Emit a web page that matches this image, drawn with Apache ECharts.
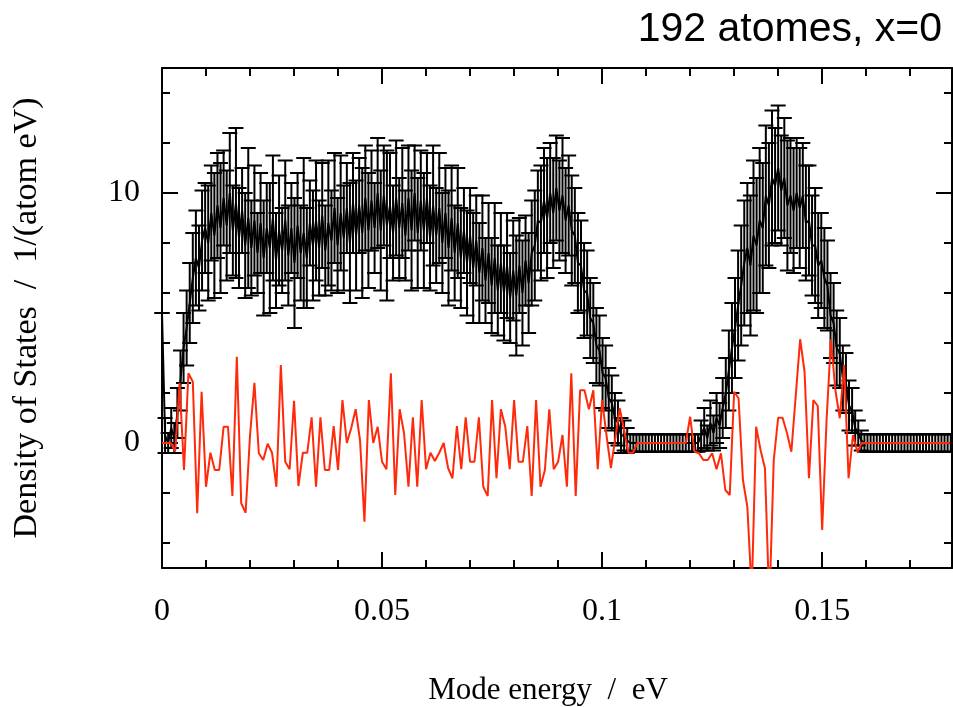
<!DOCTYPE html>
<html><head><meta charset="utf-8">
<script src="https://cdn.jsdelivr.net/npm/echarts@6/dist/echarts.min.js"></script>
<style>html,body{margin:0;padding:0;background:#fff}#c{width:953px;height:707px}</style>
</head><body><div id="c"></div>
<script>
// ---------- data ----------
const titleText = '192 atomes, x=0';
const xName = 'Mode energy  /  eV';
const yName = 'Density of States  /  1/(atom eV)';

// black series (with error bars): energy grid start/step and values
const blackStart = 0;
const blackStep = 0.0007;
const blackValues = [
  5.2, 0.3, 0.0, 0.6, 0.2, 1.2, 2.5, 3.8, 4.6, 5.6,
  6.6, 7.4, 7.0, 8.1, 8.6, 8.0, 9.2, 8.3, 9.5, 8.6,
  9.8, 8.7, 10.0, 8.5, 9.6, 8.2, 9.3, 7.9, 9.0, 7.8,
  8.9, 7.6, 8.8, 7.4, 8.6, 7.8, 9.0, 7.3, 8.5, 7.7,
  8.9, 7.5, 8.6, 7.2, 8.7, 7.6, 8.4, 7.4, 8.8, 7.9,
  8.9, 7.8, 9.1, 7.7, 8.8, 8.1, 9.4, 7.9, 9.2, 8.2,
  9.4, 8.0, 9.6, 8.3, 9.5, 8.4, 9.8, 8.5, 9.7, 8.6,
  10.0, 8.5, 9.9, 8.7, 9.5, 8.4, 9.8, 8.6, 9.6, 8.3,
  9.8, 8.5, 10.0, 8.4, 9.7, 8.5, 9.8, 8.2, 9.5, 8.3,
  9.4, 8.0, 9.2, 7.8, 9.0, 7.6, 8.8, 7.4, 8.5, 7.2,
  8.3, 7.0, 8.1, 6.8, 7.8, 6.5, 7.6, 6.3, 7.4, 6.1,
  7.2, 6.0, 7.1, 5.8, 6.9, 5.9, 7.1, 6.0, 7.3, 6.4,
  7.6, 7.9, 8.9, 8.8, 9.7, 9.0, 10.0, 9.2, 10.2, 9.3,
  9.9, 8.9, 9.5, 8.5, 8.3, 7.2, 7.1, 6.1, 6.0, 5.0,
  4.8, 3.9, 3.7, 2.8, 2.6, 1.8, 1.6, 1.0, 0.8, 0.3,
  0.3, 0.1, 0, 0, 0, 0, 0, 0, 0, 0,
  0, 0, 0, 0, 0, 0, 0, 0, 0, 0,
  0, 0, 0, 0, 0, 0.3, 0.6, 0.2, 0.8, 0.4,
  1.0, 0.7, 1.4, 2.0, 2.9, 3.8, 4.6, 5.5, 6.3, 7.2,
  7.8, 7.1, 8.3, 7.9, 8.9, 8.6, 9.9, 9.5, 10.6, 10.3,
  11.0, 10.1, 10.6, 9.5, 9.9, 9.3, 10.0, 9.4, 9.9, 8.8,
  8.9, 7.9, 7.9, 7.1, 7.3, 6.6, 6.3, 5.1, 4.8, 3.8,
  3.6, 2.6, 2.4, 1.5, 1.3, 0.6, 0.4, 0.1, 0, 0,
  0, 0, 0, 0, 0, 0, 0, 0, 0, 0,
  0, 0, 0, 0, 0, 0, 0, 0, 0, 0,
  0, 0, 0, 0, 0, 0, 0
];
const blackErrors = [
  0, 0.7, 0.4, 0.8, 0.6, 1.0, 1.2, 1.4, 1.5, 1.6,
  1.8, 1.9, 1.7, 2.0, 1.8, 2.3, 1.9, 2.5, 2.1, 2.6,
  1.9, 2.2, 2.4, 1.8, 3.0, 2.0, 1.7, 2.1, 2.8, 1.9,
  2.2, 1.6, 2.0, 2.3, 1.8, 2.6, 2.5, 1.9, 2.2, 1.7,
  2.4, 2.0, 1.8, 2.6, 2.1, 1.9, 3.0, 2.0, 1.7, 2.2,
  2.4, 1.9, 2.1, 1.8, 2.5, 2.0, 2.2, 1.9, 2.3, 2.1,
  1.8, 2.4, 2.0, 2.2, 1.9, 2.6, 2.1, 2.3, 2.0, 1.8,
  2.2, 2.4, 2.0, 3.0, 2.1, 1.9, 2.3, 2.0, 2.2, 1.8,
  2.1, 2.4, 1.9, 2.2, 2.0, 2.3, 1.8, 2.1, 2.4, 1.9,
  2.2, 2.0, 1.8, 2.3, 2.1, 1.9, 2.2, 2.0, 1.7, 2.1,
  1.9, 2.2, 1.8, 2.0, 2.1, 1.7, 2.0, 1.9, 2.2, 1.8,
  2.0, 1.9, 2.1, 1.8, 2.0, 2.4, 1.9, 2.1, 1.8, 2.0,
  2.1, 2.2, 2.0, 2.3, 2.1, 2.4, 2.0, 2.2, 2.1, 2.0,
  2.3, 2.1, 2.0, 2.2, 1.9, 2.0, 1.8, 1.9, 1.7, 1.6,
  1.6, 1.5, 1.4, 1.4, 1.3, 1.2, 1.1, 1.0, 0.9, 0.7,
  0.6, 0.5, 0.35, 0.35, 0.35, 0.35, 0.35, 0.35, 0.35, 0.35,
  0.35, 0.35, 0.35, 0.35, 0.35, 0.35, 0.35, 0.35, 0.35, 0.35,
  0.35, 0.35, 0.35, 0.35, 0.35, 0.6, 0.8, 0.5, 0.9, 0.7,
  1.0, 0.9, 1.2, 1.4, 1.6, 1.8, 2.0, 2.2, 2.4, 2.5,
  2.6, 2.8, 3.0, 2.7, 2.9, 2.6, 2.8, 2.5, 2.7, 2.3,
  2.5, 2.2, 2.4, 2.6, 2.3, 2.5, 2.2, 2.4, 2.1, 2.3,
  2.2, 2.0, 2.3, 2.1, 1.9, 2.0, 1.8, 1.7, 1.6, 1.5,
  1.4, 1.3, 1.2, 1.0, 0.9, 0.7, 0.5, 0.4, 0.35, 0.35,
  0.35, 0.35, 0.35, 0.35, 0.35, 0.35, 0.35, 0.35, 0.35, 0.35,
  0.35, 0.35, 0.35, 0.35, 0.35, 0.35, 0.35, 0.35, 0.35, 0.35,
  0.35, 0.35, 0.35, 0.35, 0.35, 0.35, 0.35
];

// red series: energy grid start/step and values
const redStart = 0;
const redStep = 0.001;
const redValues = [
  0, 0, 0, -0.33, 2.4, -1.08, 2.79, 2.45, -2.81, 2.05,
  -1.75, -0.39, -1.08, -1.08, 0.65, 0.65, -2.12, 3.45, -2.41, -2.79,
  0.3, 2.41, -0.41, -0.68, -0.03, -0.39, -1.75, 3.12, -0.75, -1.05,
  1.69, -1.72, -0.39, -0.39, 1.03, -1.75, 1.03, -1.08, -1.08, 0.68,
  -1.08, 1.72, 0, 0.6, 1.35, 0.1, -3.15, 1.72, 0, 0.65,
  -0.75, -1.05, 2.79, -2.08, 1.35, 0.39, -1.75, 1.03, -1.75, 1.72,
  -1.05, -0.39, -0.72, -0.39, 0, -1.0, -1.41, 0.68, -1.05, 1.03,
  -0.75, -0.75, 1.03, -1.75, -2.12, 1.72, -1.41, 1.35, 0.65, -1.05,
  1.72, -0.75, -0.75, 0.68, -2.12, 1.72, -1.75, -1.08, 1.35, -1.05,
  -0.75, 0.32, -1.75, 2.79, -2.12, 2.11, 2.11, 1.35, 2.11, -1.05,
  1.72, 0.3, -1.0, 0.2, 1.39, 0.5, -0.39, -0.39, 0, 0,
  0, 0, 0, 0, 0, 0, 0, 0, 0, 0,
  1.05, -0.35, -0.41, -0.68, -0.68, -0.41, -1.05, -0.41, -1.88, -2.08,
  2.05, 1.79, -1.48, -2.55, -6, 0.65, -0.28, -1.01, -6.5, -0.68,
  1.01, 1.01, 0.4, -0.35, 1.9, 4.15, 2.85, -1.41, 1.72, 1.48,
  -3.48, 0.92, 4.15, 2.12, 0.99, 3.12, -1.41, 0.32, -0.35, 0,
  0, 0, 0, 0, 0, 0, 0, 0, 0, 0,
  0, 0, 0, 0, 0, 0, 0, 0, 0, 0
];

// axes
const xMin = 0, xMax = 0.1795;
const yMin = -5, yMax = 15;
const xMajorTicks = [0, 0.05, 0.1, 0.15];
const xMinorTicks = [0.01, 0.02, 0.03, 0.04, 0.06, 0.07, 0.08, 0.09, 0.11, 0.12, 0.13, 0.14, 0.16, 0.17];
const yMajorTicks = [0, 10];
const yMinorTicks = [-4, -2, 2, 4, 6, 8, 12, 14];

// ---------- build ----------
const blackData = blackValues.map((v, j) => [+(blackStart + j * blackStep).toFixed(6), v, blackErrors[j]]);
const redData = redValues.map((v, i) => [+(redStart + i * redStep).toFixed(6), v]);

const serif = '"Liberation Serif", "Times New Roman", serif';
const lineBlack = { color: '#000', width: 2 };

function xAxisDef(pos, major, withLabel) {
  return {
    type: 'value', min: xMin, max: xMax, position: pos,
    splitLine: { show: false },
    axisLine: { show: major, onZero: false, lineStyle: lineBlack },
    axisTick: { show: true, inside: true, length: major ? 16 : 8,
      customValues: major ? xMajorTicks : xMinorTicks, lineStyle: lineBlack },
    axisLabel: { show: withLabel, customValues: xMajorTicks, fontFamily: serif, fontSize: 32,
      color: '#000', margin: 28 },
    name: withLabel ? xName : '', nameLocation: 'middle', nameGap: 107,
    nameTextStyle: { fontFamily: serif, fontSize: 31, color: '#000', padding: [0, 18, 0, 0] }
  };
}
function yAxisDef(pos, major, withLabel) {
  return {
    type: 'value', min: yMin, max: yMax, position: pos,
    splitLine: { show: false },
    axisLine: { show: major, onZero: false, lineStyle: lineBlack },
    axisTick: { show: true, inside: true, length: major ? 16 : 8,
      customValues: major ? yMajorTicks : yMinorTicks, lineStyle: lineBlack },
    axisLabel: { show: withLabel, customValues: yMajorTicks, fontFamily: serif, fontSize: 32,
      color: '#000', margin: 22 },
    name: withLabel ? yName : '', nameLocation: 'middle', nameGap: 118, nameRotate: 90,
    nameTextStyle: { fontFamily: serif, fontSize: 34, color: '#000' }
  };
}

function renderErr(params, api) {
  const x = api.value(0), y = api.value(1), e = api.value(2);
  const top = api.coord([x, y + e]);
  const bot = api.coord([x, y - e]);
  const hw = 7.5;
  const style = { stroke: '#000', lineWidth: 2, fill: null };
  return {
    type: 'group', children: [
      { type: 'line', shape: { x1: top[0], y1: top[1], x2: bot[0], y2: bot[1] }, style },
      { type: 'line', shape: { x1: top[0] - hw, y1: top[1], x2: top[0] + hw, y2: top[1] }, style },
      { type: 'line', shape: { x1: bot[0] - hw, y1: bot[1], x2: bot[0] + hw, y2: bot[1] }, style }
    ]
  };
}

const chart = echarts.init(document.getElementById('c'), null, { renderer: 'canvas' });
chart.setOption({
  animation: false,
  backgroundColor: '#fff',
  title: {
    text: titleText, right: 6, top: 4,
    textStyle: { fontFamily: '"Liberation Sans", Arial, sans-serif', fontSize: 41, fontWeight: 'normal', color: '#000' }
  },
  grid: { left: 162, right: 1, top: 68, bottom: 139, containLabel: false, outerBoundsMode: 'none' },
  xAxis: [
    xAxisDef('bottom', true, true),
    xAxisDef('bottom', false, false),
    xAxisDef('top', true, false),
    xAxisDef('top', false, false)
  ],
  yAxis: [
    yAxisDef('left', true, true),
    yAxisDef('left', false, false),
    yAxisDef('right', true, false),
    yAxisDef('right', false, false)
  ],
  series: [
    {
      type: 'custom', name: 'errors', xAxisIndex: 0, yAxisIndex: 0,
      renderItem: renderErr, data: blackData, encode: { x: 0, y: 1 }, z: 2
    },
    {
      type: 'line', name: 'DOS', xAxisIndex: 0, yAxisIndex: 0,
      data: blackData.map(d => [d[0], d[1]]), showSymbol: false, symbol: 'none',
      lineStyle: { color: '#000', width: 2 }, z: 3
    },
    {
      type: 'line', name: 'diff', xAxisIndex: 0, yAxisIndex: 0,
      data: redData, showSymbol: false, symbol: 'none',
      lineStyle: { color: '#ff2a0a', width: 2 }, z: 4
    }
  ]
});
</script>
</body></html>
